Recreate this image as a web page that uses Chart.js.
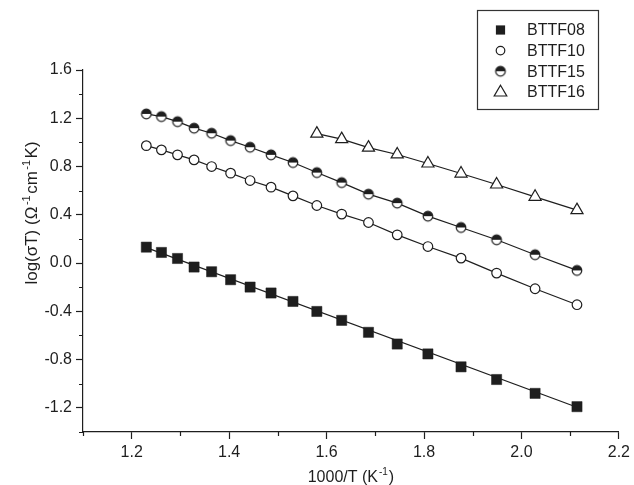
<!DOCTYPE html>
<html>
<head>
<meta charset="utf-8">
<script src="https://cdn.jsdelivr.net/npm/chart.js@4.4.1/dist/chart.umd.min.js"></script>
<style>
  body { margin: 0; background: #fff; }
  #wrap { width: 634px; height: 485px; }
</style>
</head>
<body>
<div id="wrap"><canvas id="grafico" width="634" height="485"></canvas></div>
<script>
// 1000/T (K^-1)
const invT = [1.230, 1.261, 1.294, 1.328, 1.364, 1.403, 1.443, 1.486, 1.531, 1.580, 1.631, 1.686, 1.745, 1.808, 1.876, 1.949, 2.028, 2.114];
const invT16 = [1.580, 1.631, 1.686, 1.745, 1.808, 1.876, 1.949, 2.028, 2.114];

// log(sigma T)
const bttf08 = [0.132, 0.088, 0.038, -0.033, -0.072, -0.138, -0.199, -0.248, -0.318, -0.401, -0.475, -0.574, -0.671, -0.753, -0.860, -0.965, -1.080, -1.190];
const bttf10 = [0.973, 0.938, 0.897, 0.855, 0.800, 0.745, 0.684, 0.629, 0.557, 0.477, 0.406, 0.336, 0.234, 0.137, 0.041, -0.083, -0.213, -0.345];
const bttf15 = [1.236, 1.214, 1.172, 1.118, 1.076, 1.015, 0.960, 0.897, 0.833, 0.750, 0.667, 0.571, 0.497, 0.389, 0.295, 0.193, 0.069, -0.061];
const bttf16 = [1.073, 1.027, 0.957, 0.900, 0.825, 0.742, 0.651, 0.549, 0.439];

// recta de ajuste BTTF08
const ajuste08X = [1.230, 2.114];
const ajuste08Y = [0.128, -1.195];

const xLabels = ['1.2', '1.4', '1.6', '1.8', '2.0', '2.2'];
const yLabels = ['1.6', '1.2', '0.8', '0.4', '0.0', '-0.4', '-0.8', '-1.2'];

const NEGRO = '#1e1e1e';
const FUENTE = '"Liberation Sans", Arial, sans-serif';

const fmt = v => (Math.abs(v) < 1e-9 ? 0 : v).toFixed(1);
const pares = (xs, ys) => xs.map((x, i) => ({ x: x, y: ys[i] }));

// circulo medio relleno (mitad superior negra)
const medioCirculo = (() => {
    const c = document.createElement('canvas');
    c.width = 14; c.height = 14;
    const g = c.getContext('2d');
    g.fillStyle = '#fff';
    g.beginPath(); g.arc(7, 7, 4.8, 0, Math.PI * 2); g.fill();
    g.fillStyle = NEGRO;
    g.beginPath(); g.arc(7, 7, 4.8, Math.PI, Math.PI * 2); g.closePath(); g.fill();
    g.strokeStyle = NEGRO; g.lineWidth = 1.2;
    g.beginPath(); g.arc(7, 7, 4.8, 0, Math.PI * 2); g.stroke();
    return c;
})();

const marcador = (ctx, tipo, x, y) => {
    ctx.save();
    ctx.strokeStyle = NEGRO;
    ctx.fillStyle = NEGRO;
    ctx.lineWidth = 1.2;
    if (tipo === 'cuadrado') {
        ctx.fillRect(x - 4.6, y - 4.6, 9.2, 9.2);
    } else if (tipo === 'circulo') {
        ctx.fillStyle = '#fff';
        ctx.beginPath(); ctx.arc(x, y, 4.3, 0, Math.PI * 2); ctx.fill(); ctx.stroke();
    } else if (tipo === 'medio') {
        ctx.drawImage(medioCirculo, x - 7, y - 7);
    } else {
        ctx.fillStyle = '#fff';
        ctx.beginPath();
        ctx.moveTo(x, y - 6.5);
        ctx.lineTo(x + 6.3, y + 4.2);
        ctx.lineTo(x - 6.3, y + 4.2);
        ctx.closePath(); ctx.fill(); ctx.stroke();
    }
    ctx.restore();
};

const leyenda = [
    ['cuadrado', 'BTTF08'],
    ['circulo', 'BTTF10'],
    ['medio', 'BTTF15'],
    ['triangulo', 'BTTF16']
];

// texto con superindices: partes = [[texto, esSup], ...]
const textoRico = (ctx, partes, size, hueco) => {
    const anchos = partes.map(([t, sup]) => {
        ctx.font = (sup ? Math.round(size * 0.65) : size) + 'px ' + FUENTE;
        return ctx.measureText(t).width + (sup ? hueco : 0);
    });
    let x = -anchos.reduce((a, b) => a + b, 0) / 2;
    const base = size * 0.36;
    partes.forEach(([t, sup], i) => {
        ctx.font = (sup ? Math.round(size * 0.65) : size) + 'px ' + FUENTE;
        ctx.fillText(t, sup ? x + hueco / 2 : x, sup ? base - size * 0.42 : base);
        x += anchos[i];
    });
};

const extras = {
    id: 'extras',
    afterDraw(chart) {
        const ctx = chart.ctx;
        const sx = chart.scales.x, sy = chart.scales.y;
        ctx.save();
        // ticks menores
        ctx.strokeStyle = NEGRO;
        ctx.lineWidth = 1.2;
        ctx.beginPath();
        sx.ticks.forEach(t => {
            if (!xLabels.includes(fmt(t.value))) {
                const px = Math.round(sx.getPixelForValue(t.value)) + 0.5;
                ctx.moveTo(px, sx.top); ctx.lineTo(px, sx.top + 4);
            }
        });
        sy.ticks.forEach(t => {
            if (!yLabels.includes(fmt(t.value))) {
                const py = Math.round(sy.getPixelForValue(t.value)) + 0.5;
                ctx.moveTo(sy.right, py); ctx.lineTo(sy.right - 4, py);
            }
        });
        ctx.stroke();

        // titulos de ejes
        ctx.fillStyle = NEGRO;
        ctx.textBaseline = 'alphabetic';
        ctx.textAlign = 'left';
        ctx.save();
        ctx.translate((chart.chartArea.left + chart.chartArea.right) / 2, 476);
        textoRico(ctx, [['1000/T (K', false], ['-1', true], [')', false]], 16, 2);
        ctx.restore();
        ctx.save();
        ctx.translate(31, 213);
        ctx.rotate(-Math.PI / 2);
        textoRico(ctx, [['log(\u03C3T) (\u03A9', false], ['-1', true], ['cm', false], ['-1', true], ['K)', false]], 17, 3);
        ctx.restore();

        // leyenda
        ctx.strokeStyle = '#333';
        ctx.lineWidth = 1.2;
        ctx.strokeRect(477.5, 10.5, 121, 99);
        ctx.font = '16px ' + FUENTE;
        ctx.textBaseline = 'middle';
        leyenda.forEach(([tipo, nombre], i) => {
            const y = 30 + i * 20.6;
            marcador(ctx, tipo, 500.5, y);
            ctx.fillStyle = NEGRO;
            ctx.fillText(nombre, 527, y + 1);
        });
        ctx.restore();
    }
};

Chart.defaults.font.family = FUENTE;
Chart.defaults.color = NEGRO;

const ctx = document.getElementById('grafico').getContext('2d');

new Chart(ctx, {
    type: 'scatter',
    data: {
        datasets: [
            {
                label: 'BTTF08',
                data: pares(invT, bttf08),
                pointStyle: 'rect',
                pointRadius: 7.2,
                backgroundColor: NEGRO,
                borderColor: NEGRO,
                borderWidth: 0.5,
                showLine: false
            },
            {
                label: 'BTTF10',
                data: pares(invT, bttf10),
                pointStyle: 'circle',
                pointRadius: 4.8,
                backgroundColor: '#fff',
                borderColor: NEGRO,
                borderWidth: 1.2,
                showLine: true
            },
            {
                label: 'BTTF15',
                data: pares(invT, bttf15),
                pointStyle: medioCirculo,
                borderColor: NEGRO,
                borderWidth: 1.2,
                showLine: true
            },
            {
                label: 'BTTF16',
                data: pares(invT16, bttf16),
                pointStyle: 'triangle',
                pointRadius: 7,
                backgroundColor: '#fff',
                borderColor: NEGRO,
                borderWidth: 1.2,
                showLine: true
            },
            {
                label: 'ajuste BTTF08',
                data: pares(ajuste08X, ajuste08Y),
                pointRadius: 0,
                borderColor: NEGRO,
                borderWidth: 1.2,
                showLine: true
            }
        ]
    },
    options: {
        responsive: false,
        animation: false,
        events: [],
        layout: { padding: { left: 0, right: 14, top: 70, bottom: 0 } },
        plugins: {
            legend: { display: false },
            tooltip: { enabled: false }
        },
        scales: {
            x: {
                type: 'linear',
                min: 1.1,
                max: 2.2,
                afterFit: s => { s.height = 53; },
                border: { display: true, color: NEGRO, width: 1.2 },
                grid: {
                    drawOnChartArea: false,
                    tickLength: 7,
                    tickWidth: 1.2,
                    tickColor: c => xLabels.includes(fmt(c.tick.value)) ? NEGRO : 'rgba(0,0,0,0)'
                },
                ticks: {
                    stepSize: 0.1,
                    autoSkip: false,
                    maxRotation: 0,
                    padding: 4,
                    font: { size: 16 },
                    callback: v => xLabels.includes(fmt(v)) ? fmt(v) : ''
                }
            },
            y: {
                type: 'linear',
                min: -1.4,
                max: 1.6,
                afterFit: s => { s.width = 83; },
                border: { display: true, color: NEGRO, width: 1.2 },
                grid: {
                    drawOnChartArea: false,
                    tickLength: 7,
                    tickWidth: 1.2,
                    tickColor: c => yLabels.includes(fmt(c.tick.value)) ? NEGRO : 'rgba(0,0,0,0)'
                },
                ticks: {
                    stepSize: 0.2,
                    autoSkip: false,
                    padding: 4,
                    font: { size: 16 },
                    callback: v => yLabels.includes(fmt(v)) ? fmt(v) : ''
                }
            }
        }
    },
    plugins: [extras]
});
</script>
</body>
</html>
